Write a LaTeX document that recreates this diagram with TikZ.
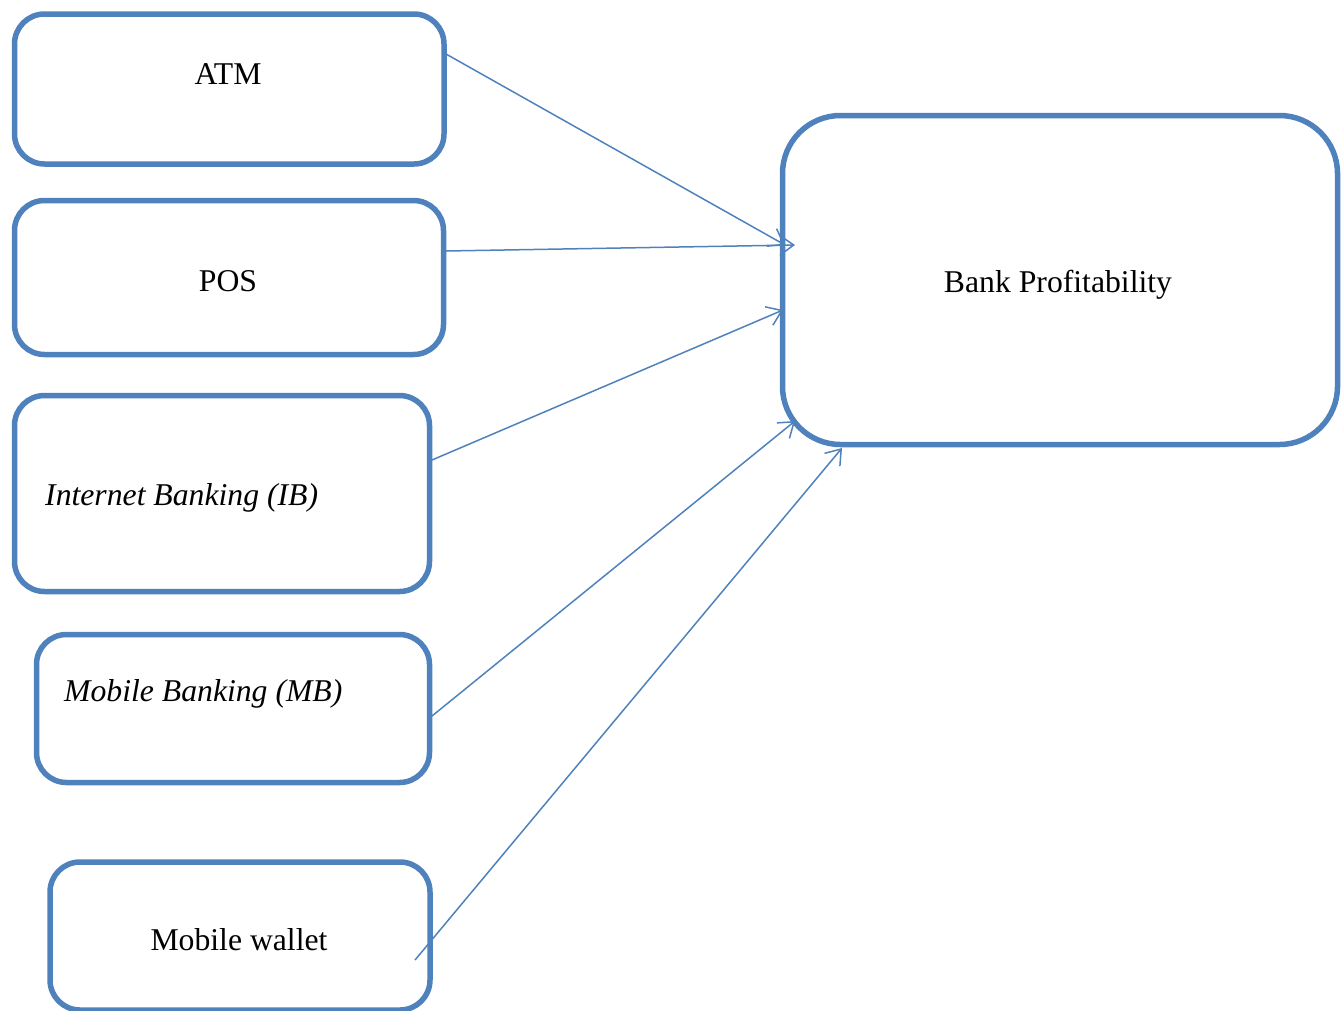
\documentclass[tikz,border=0pt]{standalone}
\usepackage{fontspec}
\setmainfont{Liberation Serif}
\usetikzlibrary{arrows.meta}
\definecolor{boxblue}{RGB}{79,129,189}
\tikzset{
  box/.style={draw=boxblue, line width=5.5pt, rounded corners=30pt, rectangle,
    inner sep=0pt, outer sep=0pt, fill=white},
  lbl/.style={inner sep=0pt, font=\fontsize{31.7}{38}\selectfont, text=black},
  itlbl/.style={lbl, anchor=west, font=\fontsize{31.7}{38}\selectfont\itshape},
  conn/.style={draw=boxblue, line width=1.5pt, -{Straight Barb[length=14pt,width=20pt,line width=1.5pt]}}
}
\begin{document}
\begin{tikzpicture}[x=1pt,y=-1pt]
\useasboundingbox (0,0) rectangle (1343,1010);
% boxes
\node[box, minimum width=429.5pt, minimum height=150pt] (atm) at (229.25,89) {};
\node[box, minimum width=429pt, minimum height=154pt] (pos) at (229,277.5) {};
\node[box, minimum width=415pt, minimum height=196pt] (ib) at (222,493.5) {};
\node[box, minimum width=393pt, minimum height=148pt] (mb) at (233,708.5) {};
\node[box, minimum width=380pt, minimum height=148pt] (mw) at (240,936) {};
\node[box, rounded corners=58pt, minimum width=555pt, minimum height=329pt] (bp) at (1060,280) {};
% labels
\node[lbl] (tatm) at (228,74) {ATM};
\node[lbl] (tpos) at (228,281) {POS};
\node[itlbl] (tib) at (45,498) {Internet Banking (IB)};
\node[itlbl] (tmb) at (64,694) {Mobile Banking (MB)};
\node[lbl] (tmw) at (239,940) {Mobile wallet};
\node[lbl] (tbp) at (1058,285) {Bank Profitability};
% connector end points
\coordinate (s1) at (446,54);
\coordinate (e1) at (785,245);
\coordinate (s2) at (446,251);
\coordinate (e2) at (795,245);
\coordinate (s3) at (432,460);
\coordinate (e3) at (783,310);
\coordinate (s4) at (432,716);
\coordinate (e4) at (795,421);
\coordinate (s5) at (415,960);
\coordinate (e5) at (842,448);
\draw[conn] (s1) -- (e1);
\draw[conn] (s2) -- (e2);
\draw[conn] (s3) -- (e3);
\draw[conn] (s4) -- (e4);
\draw[conn] (s5) -- (e5);
\end{tikzpicture}
\end{document}
